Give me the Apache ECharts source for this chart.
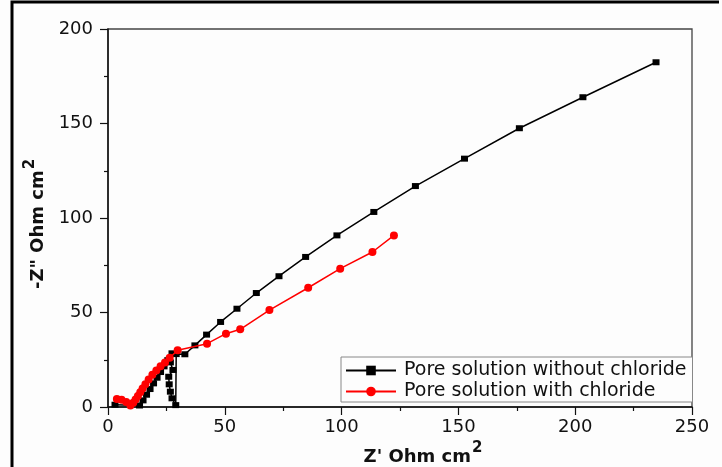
<!DOCTYPE html>
<html>
<head>
<meta charset="utf-8">
<script src="https://cdn.jsdelivr.net/npm/echarts@6/dist/echarts.min.js"></script>
<style>
  html, body { margin: 0; padding: 0; background: #fdfdfd; }
  #chart { width: 722px; height: 467px; }
</style>
</head>
<body>
<div id="chart"></div>
<script>
// Nyquist data: real part Z' and imaginary part -Z'' (Ohm cm^2)
const zReWithoutCl = [3, 13.5, 15, 16.5, 18, 19.5, 21, 22.5, 24, 25.6, 27.4, 26.7, 27.8, 26, 26.2, 26.7, 27.4, 29,
  29.2, 32.9, 37.2, 42.2, 48.2, 55.2, 63.5, 73.2, 84.6, 98.0, 113.8, 131.6, 152.6, 176.1, 203.3, 234.6];
const zImWithoutCl = [1.2, 0.8, 3.5, 6.5, 9.5, 12.5, 15.5, 18.5, 21.5, 24.8, 28.4, 23.6, 19.6, 16, 12, 8.1, 4.6, 1.0,
  28, 27.9, 32.6, 38.3, 45.0, 52.0, 60.3, 69.2, 79.4, 90.8, 103.2, 116.9, 131.4, 147.5, 163.9, 182.4];

const zReWithCl = [3.8, 5.8, 7.8, 9.6, 10.8, 11.8, 12.8, 13.8, 14.8, 16, 17.4, 19, 20.7, 22.5, 24.4, 26.4, 29.8,
  42.4, 50.5, 56.6, 69.1, 85.7, 99.4, 113.2, 122.4];
const zImWithCl = [4.2, 3.8, 2.6, 0.8, 2.2, 4, 5.8, 7.8, 9.8, 12, 14.5, 17, 19.3, 21.5, 23.6, 26, 30,
  33.5, 38.8, 41.1, 51.3, 63.1, 73.2, 82.0, 90.8];

const seriesNames = ['Pore solution without chloride', 'Pore solution with chloride'];
const xTicks = [0, 50, 100, 150, 200, 250];
const yTicks = [0, 50, 100, 150, 200];

function pairs(xs, ys) { return xs.map((x, i) => [x, ys[i]]); }

const FONT = 'DejaVu Sans';
const chart = echarts.init(document.getElementById('chart'), null, { renderer: 'canvas' });

const axisCommon = {
  axisLine: { show: true, onZero: false, lineStyle: { color: '#111', width: 1.5 } },
  axisTick: { show: true, inside: false, length: 8, lineStyle: { color: '#111', width: 1.2 } },
  minorTick: { show: true, splitNumber: 2, length: 4, lineStyle: { color: '#111', width: 1.2 } },
  splitLine: { show: false },
  minorSplitLine: { show: false }
};

const titleRich = {
  a: { fontFamily: FONT, fontSize: 18, fontWeight: 'bold', color: '#111', verticalAlign: 'bottom' },
  s: { fontFamily: FONT, fontSize: 15, fontWeight: 'bold', color: '#111', verticalAlign: 'bottom', padding: [0, 0, 10, 1] }
};

chart.setOption({
  backgroundColor: '#fdfdfd',
  animation: false,
  grid: {
    left: 108, top: 29, width: 584, height: 378,
    containLabel: false, outerBoundsMode: 'none',
    show: true, borderColor: '#444', borderWidth: 1.3, backgroundColor: 'transparent'
  },
  xAxis: Object.assign({
    type: 'value',
    min: xTicks[0], max: xTicks[xTicks.length - 1], interval: 50,
    name: "{a|Z' Ohm cm}{s|2}",
    nameLocation: 'middle',
    nameGap: 32,
    nameTextStyle: { padding: [0, 0, 0, 46], rich: titleRich },
    axisLabel: { margin: 11, fontFamily: FONT, fontSize: 18, color: '#111' }
  }, axisCommon),
  yAxis: Object.assign({
    type: 'value',
    min: yTicks[0], max: yTicks[yTicks.length - 1], interval: 50,
    name: '{a|-Z" Ohm cm}{s|2}',
    nameLocation: 'middle',
    nameGap: 58,
    nameTextStyle: { padding: [0, 12, 0, 0], rich: titleRich },
    axisLabel: { margin: 15, fontFamily: FONT, fontSize: 18, color: '#111' }
  }, axisCommon),
  legend: {
    orient: 'vertical',
    left: 341, top: 357,
    padding: [4, 6, 1, 4],
    itemWidth: 50, itemHeight: 12, itemGap: 2,
    borderColor: '#888', borderWidth: 1,
    backgroundColor: '#fdfdfd',
    textStyle: { fontFamily: FONT, fontSize: 19, color: '#111', lineHeight: 19, padding: [0, 0, 0, 3] },
    data: seriesNames
  },
  series: [
    {
      name: seriesNames[0],
      type: 'line',
      data: pairs(zReWithoutCl, zImWithoutCl),
      symbol: 'rect', symbolSize: [7, 6],
      lineStyle: { color: '#000', width: 1.5 },
      itemStyle: { color: '#000' },
      z: 2
    },
    {
      name: seriesNames[1],
      type: 'line',
      data: pairs(zReWithCl, zImWithCl),
      symbol: 'circle', symbolSize: 8,
      lineStyle: { color: '#ff0000', width: 1.5 },
      itemStyle: { color: '#ff0000' },
      z: 3
    }
  ],
  graphic: [
    {
      type: 'polyline',
      shape: { points: [[12, 470], [12, 2], [719, 2]] },
      style: { stroke: '#000', lineWidth: 3, fill: null },
      silent: true
    }
  ]
});
</script>
</body>
</html>
